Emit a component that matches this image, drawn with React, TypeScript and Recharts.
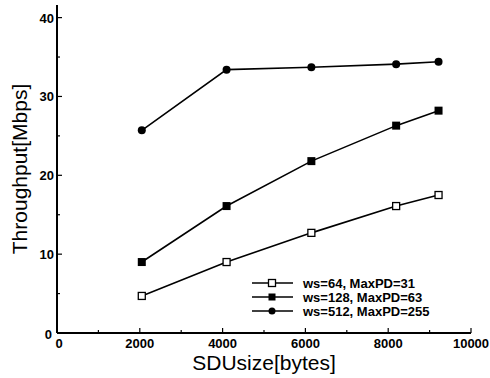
import React from 'react';
import { LineChart, Line, XAxis, YAxis } from 'recharts';

const sduSizes = [2048, 4096, 6144, 8192, 9216];
const ws64 = [4.7, 9.0, 12.7, 16.1, 17.5];
const ws128 = [9.0, 16.1, 21.8, 26.3, 28.2];
const ws512 = [25.7, 33.4, 33.7, 34.1, 34.4];
const seriesNames = ['ws=64, MaxPD=31', 'ws=128, MaxPD=63', 'ws=512, MaxPD=255'];
const xTicks = [0, 1000, 2000, 3000, 4000, 5000, 6000, 7000, 8000, 9000, 10000];
const yTicks = [0, 5, 10, 15, 20, 25, 30, 35, 40];

const data = sduSizes.map((x, i) => ({ x, a: ws64[i], b: ws128[i], c: ws512[i] }));

const FONT = '"Liberation Sans", Arial, sans-serif';

const OpenSquare = (p: any) => (
    <rect x={p.cx - 3.5} y={p.cy - 3.5} width={7} height={7} fill="#fff" stroke="#000" strokeWidth={1.3} />
);
const FilledSquare = (p: any) => (
    <rect x={p.cx - 4} y={p.cy - 4} width={8} height={8} fill="#000" />
);
const FilledCircle = (p: any) => <circle cx={p.cx} cy={p.cy} r={4} fill="#000" />;

const XTick = ({ x, y, payload }: any) => {
    const major = payload.value % 2000 === 0;
    return (
        <g>
            <line x1={x} x2={x} y1={y} y2={y - (major ? 5 : 3)} stroke="#000" strokeWidth={1.2} />
            {major && (
                <text x={payload.value === 0 ? x + 2 : x} y={y + 15} textAnchor="middle" fontFamily={FONT} fontWeight="bold" fontSize={13} fill="#000">
                    {payload.value}
                </text>
            )}
        </g>
    );
};

const YTick = ({ x, y, payload }: any) => {
    const major = payload.value % 10 === 0;
    const zero = payload.value === 0;
    return (
        <g>
            <line x1={x} x2={x + (major ? 5 : 3)} y1={y} y2={y} stroke="#000" strokeWidth={1.2} />
            {major && (
                <text x={zero ? x - 5 : x - 3} y={zero ? y + 6 : y + 5} textAnchor="end" fontFamily={FONT} fontWeight="bold" fontSize={13} fill="#000">
                    {payload.value}
                </text>
            )}
        </g>
    );
};

// legend drawn over the plot, lower right
const LegendBox = () => {
    const markers = [
        (cx: number, cy: number) => <OpenSquare cx={cx} cy={cy} />,
        (cx: number, cy: number) => <rect x={cx - 3.5} y={cy - 3.5} width={7} height={7} fill="#000" />,
        (cx: number, cy: number) => <circle cx={cx} cy={cy} r={3.5} fill="#000" />,
    ];
    return (
        <svg width={210} height={45} style={{ position: 'absolute', left: 250, top: 276 }}>
            {seriesNames.map((name, i) => {
                const cy = 7 + i * 14;
                return (
                    <g key={name}>
                        <line x1={2} x2={43} y1={cy} y2={cy} stroke="#000" strokeWidth={1.5} />
                        {markers[i](22, cy)}
                        <text x={53} y={cy + 5} fontFamily={FONT} fontWeight="bold" fontSize={13} fill="#000">
                            {name}
                        </text>
                    </g>
                );
            })}
        </svg>
    );
};

export default function App() {
    return (
        <div style={{ position: 'absolute', left: 0, top: 0, width: 490, height: 378, background: '#fff' }}>
            <LineChart width={490} height={378} data={data} margin={{ top: 5, right: 19, left: 0, bottom: 0 }}>
                <XAxis
                    dataKey="x"
                    type="number"
                    domain={[0, 10000]}
                    ticks={xTicks}
                    interval={0}
                    height={45}
                    tickLine={false}
                    tickSize={0}
                    tickMargin={0}
                    tick={<XTick />}
                    axisLine={{ stroke: '#000', strokeWidth: 2 }}
                    label={{ value: 'SDUsize[bytes]', position: 'insideBottom', offset: 8, fontFamily: FONT, fontSize: 21, fill: '#000' }}
                />
                <XAxis xAxisId="top" orientation="top" dataKey="x" type="number" domain={[0, 10000]} height={0} tick={false} tickLine={false} axisLine={{ stroke: '#000', strokeWidth: 2 }} />
                <YAxis
                    type="number"
                    domain={[0, 41.6]}
                    ticks={yTicks}
                    interval={0}
                    width={57}
                    tickLine={false}
                    tickSize={0}
                    tickMargin={0}
                    tick={<YTick />}
                    axisLine={{ stroke: '#000', strokeWidth: 2 }}
                    label={{ value: 'Throughput[Mbps]', angle: -90, position: 'insideLeft', offset: 20, fontFamily: FONT, fontSize: 21, fill: '#000', style: { textAnchor: 'middle' } }}
                />
                <YAxis yAxisId="right" orientation="right" domain={[0, 41.6]} width={0} tick={false} tickLine={false} axisLine={{ stroke: '#000', strokeWidth: 2 }} />
                <Line dataKey="a" stroke="#000" strokeWidth={1.6} dot={<OpenSquare />} activeDot={false} isAnimationActive={false} />
                <Line dataKey="b" stroke="#000" strokeWidth={1.6} dot={<FilledSquare />} activeDot={false} isAnimationActive={false} />
                <Line dataKey="c" stroke="#000" strokeWidth={1.6} dot={<FilledCircle />} activeDot={false} isAnimationActive={false} />
            </LineChart>
            <LegendBox />
        </div>
    );
}
